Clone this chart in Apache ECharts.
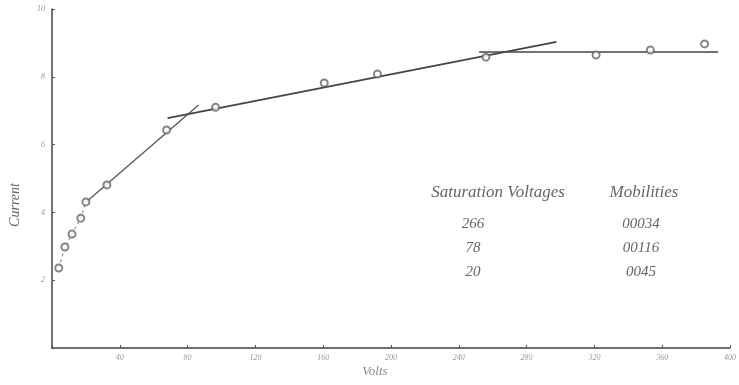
<!DOCTYPE html>
<html>
<head>
<meta charset="utf-8">
<script src="https://cdn.jsdelivr.net/npm/echarts@6/dist/echarts.min.js"></script>
<style>
  html, body { margin: 0; padding: 0; background: #ffffff; }
  #chart { width: 739px; height: 385px; }
</style>
</head>
<body>
<div id="chart"></div>
<script>
// Measured readings: volts vs current
const volts   = [4, 7.6, 11.8, 17, 20, 32.4, 67.6, 96.5, 160.6, 192, 256, 321, 353, 385];
const current = [2.36, 2.98, 3.36, 3.83, 4.31, 4.81, 6.43, 7.1, 7.82, 8.08, 8.58, 8.64, 8.79, 8.97];

// Low-voltage points joined by short dashes
const lowCurveVolts   = [4, 7.6, 11.8, 17, 20];
const lowCurveCurrent = [2.36, 2.98, 3.36, 3.83, 4.31];

// Fitted straight lines (end points)
const fitSteepVolts   = [20, 86.5];
const fitSteepCurrent = [4.3, 7.17];
const fitMidVolts     = [68.2, 297.6];
const fitMidCurrent   = [6.78, 9.03];
const fitFlatVolts    = [252, 393];
const fitFlatCurrent  = [8.73, 8.73];

// Axis ticks
const xTicks = [0, 40, 80, 120, 160, 200, 240, 280, 320, 360, 400];
const yTicks = [0, 2, 4, 6, 8, 10];

// Table of results
const tableHeaders = ['Saturation Voltages', 'Mobilities'];
const saturationVoltages = ['266', '78', '20'];
const mobilities = ['00034', '00116', '0045'];

const pairs = (xs, ys) => xs.map((x, i) => [x, ys[i]]);

const serif = '"Liberation Serif", "DejaVu Serif", serif';
const ink = '#555555';

const chart = echarts.init(document.getElementById('chart'));

const textEl = (x, y, text, size) => ({
  type: 'text', x: x, y: y,
  style: {
    text: text, font: 'italic ' + size + 'px ' + serif, fill: '#666',
    textAlign: 'center', textVerticalAlign: 'middle'
  }
});
const tableText = [
  textEl(498, 193, tableHeaders[0], 17),
  textEl(644, 193, tableHeaders[1], 17)
];
saturationVoltages.forEach((s, i) => {
  tableText.push(textEl(473, 224 + i * 24, s, 15));
  tableText.push(textEl(641, 224 + i * 24, mobilities[i], 15));
});

chart.setOption({
  animation: false,
  backgroundColor: '#ffffff',
  grid: { left: 52, right: 5, top: 9, bottom: 37 },
  xAxis: {
    type: 'value', min: 0, max: 400, interval: 40,
    axisLine: { lineStyle: { color: '#444', width: 1.5 } },
    axisTick: { inside: true, length: 3, lineStyle: { color: '#555' } },
    splitLine: { show: false },
    axisLabel: {
      margin: 6, color: '#999', fontSize: 8, fontFamily: serif, fontStyle: 'italic',
      formatter: v => (xTicks.includes(v) && v !== 0 ? String(v) : '')
    }
  },
  yAxis: {
    type: 'value', min: 0, max: 10, interval: 2,
    axisLine: { show: true, lineStyle: { color: '#444', width: 1.5 } },
    axisTick: { show: true, inside: true, length: 3, lineStyle: { color: '#555' } },
    splitLine: { show: false },
    axisLabel: {
      margin: 7, color: '#999', fontSize: 8, fontFamily: serif, fontStyle: 'italic',
      formatter: v => (yTicks.includes(v) && v !== 0 ? String(v) : '')
    }
  },
  graphic: [
    {
      type: 'text', x: 15, y: 205, rotation: Math.PI / 2,
      style: {
        text: 'Current', font: 'italic 14px ' + serif, fill: '#666',
        textAlign: 'center', textVerticalAlign: 'middle'
      }
    },
    {
      type: 'text', x: 375, y: 372,
      style: {
        text: 'Volts', font: 'italic 13px ' + serif, fill: '#888',
        textAlign: 'center', textVerticalAlign: 'middle'
      }
    }
  ].concat(tableText),
  series: [
    {
      type: 'line', data: pairs(fitSteepVolts, fitSteepCurrent), symbol: 'none',
      lineStyle: { color: ink, width: 1.3 }
    },
    {
      type: 'line', data: pairs(lowCurveVolts, lowCurveCurrent), symbol: 'none',
      lineStyle: { color: '#777', width: 1, type: [3, 3] }
    },
    {
      type: 'line', data: pairs(fitMidVolts, fitMidCurrent), symbol: 'none',
      lineStyle: { color: '#444', width: 1.6 }
    },
    {
      type: 'line', data: pairs(fitFlatVolts, fitFlatCurrent), symbol: 'none',
      lineStyle: { color: '#444', width: 1.6 }
    },
    {
      type: 'scatter', data: pairs(volts, current),
      symbol: 'emptyCircle', symbolSize: 7, z: 5,
      itemStyle: { color: '#666', borderColor: '#666', borderWidth: 1 }
    }
  ]
});
</script>
</body>
</html>
